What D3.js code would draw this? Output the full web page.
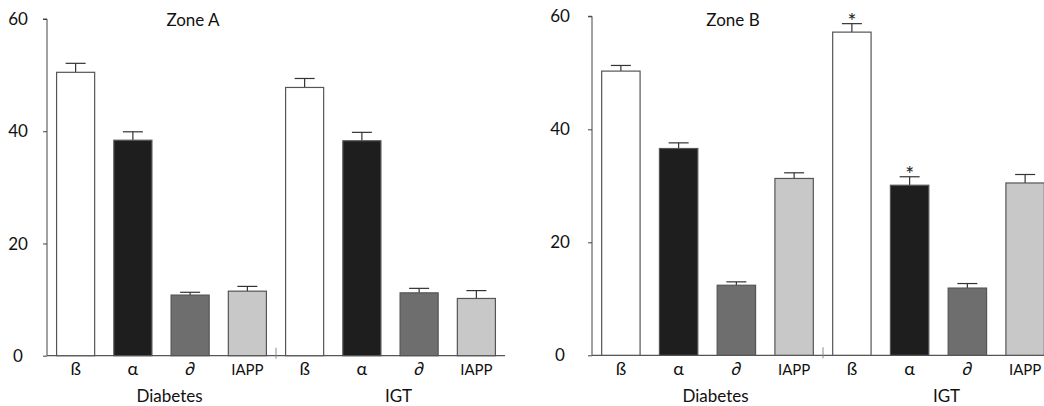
<!DOCTYPE html>
<html>
<head>
<meta charset="utf-8">
<script src="https://cdn.jsdelivr.net/npm/d3@7"></script>
<style>
  body { margin: 0; background: #fff; }
  svg { display: block; font-family: Lato, "Open Sans", sans-serif; }
</style>
</head>
<body>
<div id="chart"></div>
<script>
// Data
const cells = ["ß", "α", "∂", "IAPP"];
const groups = ["Diabetes", "IGT"];
const yTicks = [0, 20, 40, 60];

const zoneAMeans = [50.5, 38.4, 10.8, 11.5, 47.8, 38.3, 11.2, 10.2];
const zoneAErr = [1.6, 1.5, 0.5, 0.85, 1.6, 1.5, 0.8, 1.4];
const zoneBMeans = [50.3, 36.6, 12.4, 31.3, 57.2, 30.1, 11.9, 30.5];
const zoneBErr = [1.0, 1.0, 0.6, 1.0, 1.5, 1.5, 0.8, 1.5];
const zoneBSig = [0, 0, 0, 0, 1, 1, 0, 0];

const fills = ["#ffffff", "#1e1e1e", "#6e6e6e", "#c8c8c8"];

const width = 1044, height = 406;

const svg = d3.select("#chart")
    .append("svg")
    .attr("width", width)
    .attr("height", height);

// Panel drawing
const panel = (opts) => {
    const g = svg.append("g");
    const rows = opts.means.map((m, i) => ({
        i: i,
        cell: cells[i % 4],
        group: groups[Math.floor(i / 4)],
        mean: m,
        err: opts.err[i],
        sig: opts.sig ? opts.sig[i] : 0
    }));

    const x = d3.scaleBand()
        .domain(rows.map(d => d.i))
        .range([opts.x0, opts.x1])
        .paddingInner(0.335)
        .paddingOuter(0.1675);

    const y = d3.scaleLinear()
        .domain([0, 60])
        .range([opts.yBottom, opts.yTop]);

    // y axis
    const yAxis = d3.axisLeft(y)
        .tickValues(yTicks)
        .tickSize(4)
        .tickFormat("");
    g.append("g")
        .attr("transform", `translate(${opts.x0},0)`)
        .call(yAxis)
        .call(s => s.select(".domain").attr("stroke", "#444").attr("d", `M-4,${y(60)}H0V${y(0)}`))
        .call(s => s.selectAll(".tick line").attr("stroke", "#444"));

    g.append("g")
        .selectAll("text")
        .data(yTicks)
        .join("text")
        .attr("x", opts.labelX)
        .attr("y", d => y(d))
        .attr("dy", "0.36em")
        .attr("text-anchor", "middle")
        .attr("font-size", 17)
        .attr("fill", "#111")
        .text(d => d);

    // baseline
    g.append("line")
        .attr("x1", opts.x0)
        .attr("x2", opts.axisEnd)
        .attr("y1", y(0))
        .attr("y2", y(0))
        .attr("stroke", "#555")
        .attr("stroke-width", 1.2);

    // group separator tick
    const sepX = (x(3) + x.bandwidth() + x(4)) / 2;
    g.append("line")
        .attr("x1", sepX)
        .attr("x2", sepX)
        .attr("y1", y(0) - 8)
        .attr("y2", y(0) + 3)
        .attr("stroke", "#888");

    // error bars
    const eb = g.append("g")
        .selectAll("g")
        .data(rows)
        .join("g")
        .attr("stroke", "#333")
        .attr("stroke-width", 1.2);
    eb.append("line")
        .attr("x1", d => x(d.i) + x.bandwidth() / 2)
        .attr("x2", d => x(d.i) + x.bandwidth() / 2)
        .attr("y1", d => y(d.mean))
        .attr("y2", d => y(d.mean + d.err));
    eb.append("line")
        .attr("x1", d => x(d.i) + x.bandwidth() / 2 - 10)
        .attr("x2", d => x(d.i) + x.bandwidth() / 2 + 10)
        .attr("y1", d => y(d.mean + d.err))
        .attr("y2", d => y(d.mean + d.err));

    // bars
    g.append("g")
        .selectAll("rect")
        .data(rows)
        .join("rect")
        .attr("x", d => x(d.i))
        .attr("y", d => y(d.mean))
        .attr("width", x.bandwidth())
        .attr("height", d => y(0) - y(d.mean))
        .attr("fill", d => fills[d.i % 4])
        .attr("stroke", "#555")
        .attr("stroke-width", 1.2);

    // significance
    g.append("g")
        .selectAll("text")
        .data(rows.filter(d => d.sig))
        .join("text")
        .attr("x", d => x(d.i) + x.bandwidth() / 2)
        .attr("y", d => y(d.mean + d.err) + 5)
        .attr("text-anchor", "middle")
        .attr("font-size", 21)
        .attr("fill", "#222")
        .text("*");

    // cell labels
    g.append("g")
        .selectAll("text")
        .data(rows)
        .join("text")
        .attr("x", d => x(d.i) + x.bandwidth() / 2)
        .attr("y", 375)
        .attr("text-anchor", "middle")
        .attr("font-size", d => d.cell === "IAPP" ? 15 : 18)
        .attr("font-style", d => d.cell === "∂" ? "italic" : null)
        .attr("fill", "#111")
        .text(d => d.cell);

    // group labels
    g.append("g")
        .selectAll("text")
        .data(groups)
        .join("text")
        .attr("x", (d, k) => (x(k * 4 + 1) + x(k * 4 + 2) + x.bandwidth()) / 2 + 8)
        .attr("y", 402)
        .attr("text-anchor", "middle")
        .attr("font-size", 17)
        .attr("fill", "#111")
        .text(d => d);

    // title
    g.append("text")
        .attr("x", opts.titleX)
        .attr("y", 26)
        .attr("text-anchor", "middle")
        .attr("font-size", 17)
        .attr("fill", "#111")
        .text(opts.title);
};

panel({
    title: "Zone A", titleX: 193,
    means: zoneAMeans, err: zoneAErr,
    x0: 47, x1: 505, axisEnd: 505,
    yBottom: 355.7, yTop: 19, labelX: 18
});

panel({
    title: "Zone B", titleX: 733,
    means: zoneBMeans, err: zoneBErr, sig: zoneBSig,
    x0: 592, x1: 1054, axisEnd: 1044,
    yBottom: 355.3, yTop: 16.3, labelX: 560
});
</script>
</body>
</html>
